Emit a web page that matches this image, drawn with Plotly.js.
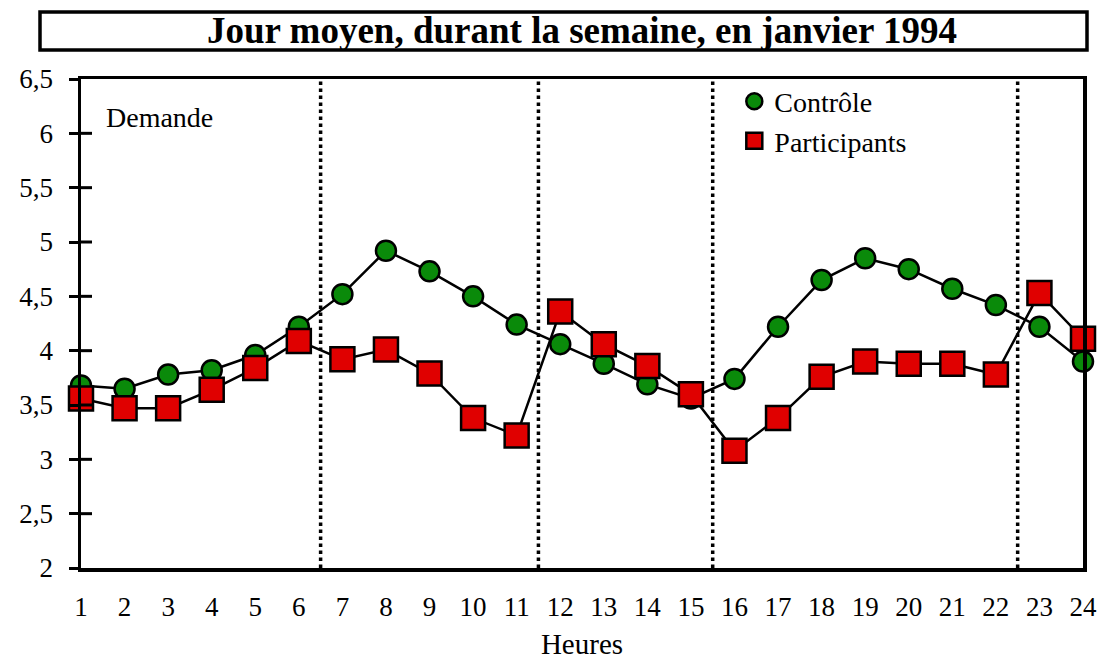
<!DOCTYPE html>
<html><head><meta charset="utf-8">
<script src="https://cdn.plot.ly/plotly-3.0.1.min.js"></script>
<style>body{margin:0;background:#fff}#c{width:1099px;height:660px}</style>
</head><body><div id="c"></div>
<script>
const heures = [1,2,3,4,5,6,7,8,9,10,11,12,13,14,15,16,17,18,19,20,21,22,23,24];
const controle = [3.68,3.65,3.78,3.82,3.96,4.22,4.52,4.92,4.73,4.50,4.24,4.06,3.88,3.69,3.56,3.74,4.22,4.65,4.85,4.75,4.57,4.42,4.22,3.90];
const participants = [3.56,3.47,3.47,3.64,3.84,4.09,3.92,4.01,3.79,3.38,3.22,4.36,4.06,3.86,3.60,3.08,3.38,3.76,3.90,3.88,3.88,3.78,4.53,4.11];
const yTickVals = [2,2.5,3,3.5,4,4.5,5,5.5,6,6.5];
const yTickText = ["2","2,5","3","3,5","4","4,5","5","5,5","6","6,5"];
const separators = [6.5,11.5,15.5,22.5];
const seriesNames = ["Contrôle","Participants"];
const titleText = "Jour moyen, durant la semaine, en janvier 1994";

const font = "Liberation Serif, Times New Roman, serif";
const traces = [
  {x:heures,y:controle,mode:"lines",line:{color:"#000",width:2.5},showlegend:false,hoverinfo:"skip",cliponaxis:false},
  {x:heures,y:participants,mode:"lines",line:{color:"#000",width:2.5},showlegend:false,hoverinfo:"skip",cliponaxis:false},
  {x:heures,y:controle,mode:"markers",name:seriesNames[0],cliponaxis:false,
   marker:{symbol:"circle",size:20,color:"#0a8a0a",line:{color:"#000",width:2.5}}},
  {x:heures,y:participants,mode:"markers",name:seriesNames[1],cliponaxis:false,
   marker:{symbol:"square",size:24,color:"#e00000",line:{color:"#000",width:2.5}}}
];
const shapes = separators.map(v=>({type:"line",xref:"x",yref:"y",x0:v,x1:v,y0:2,y1:6.5,
  line:{color:"#000",width:3.5,dash:"dot"}}));
// title box
shapes.push({type:"rect",xref:"paper",yref:"paper",
  x0:(40-81)/1002,x1:(1087-81)/1002,y0:(568-50)/489,y1:(568-12)/489,
  line:{color:"#000",width:3.5},fillcolor:"rgba(0,0,0,0)"});
// y tick inner parts
yTickVals.forEach(v=>{ if(v>2 && v<6.5) shapes.push({type:"line",xref:"paper",yref:"y",x0:0,x1:0.011,y0:v,y1:v,layer:"above",line:{color:"#000",width:3}}); });

const layout = {
  width:1099,height:660,
  margin:{l:81,r:16,t:79,b:92},
  paper_bgcolor:"#fff",plot_bgcolor:"#fff",
  showlegend:true,
  legend:{x:0.652,y:1.005,xanchor:"left",yanchor:"top",bgcolor:"rgba(0,0,0,0)",
    font:{family:font,size:28,color:"#000"},itemsizing:"trace",tracegroupgap:2},
  xaxis:{range:[1,24],tickvals:heures,ticktext:heures.map(String),
    showline:true,linecolor:"#000",linewidth:3.5,mirror:true,showgrid:false,zeroline:false,
    ticks:"",tickfont:{family:font,size:27,color:"#000"},ticklabelstandoff:12,
    title:{text:"Heures",font:{family:font,size:29,color:"#000"},standoff:14}},
  yaxis:{range:[2,6.5],tickvals:yTickVals,ticktext:yTickText,
    showline:true,linecolor:"#000",linewidth:3.5,mirror:true,showgrid:false,zeroline:false,
    ticks:"outside",ticklen:9,tickwidth:3,tickcolor:"#000",
    tickfont:{family:font,size:27,color:"#000"},ticklabelstandoff:10},
  annotations:[
    {text:"<b>"+titleText+"</b>",xref:"paper",yref:"paper",x:(582-81)/1002,y:(568-31)/489,showarrow:false,
     xanchor:"center",yanchor:"middle",font:{family:font,size:37,color:"#000"}},
    {text:"Demande",xref:"paper",yref:"paper",x:(104-81)/1002,y:(568-117)/489,showarrow:false,
     xanchor:"left",yanchor:"middle",font:{family:font,size:28,color:"#000"}}
  ],
  shapes:shapes
};
Plotly.newPlot("c",traces,layout,{displayModeBar:false,staticPlot:true});
</script></body></html>
